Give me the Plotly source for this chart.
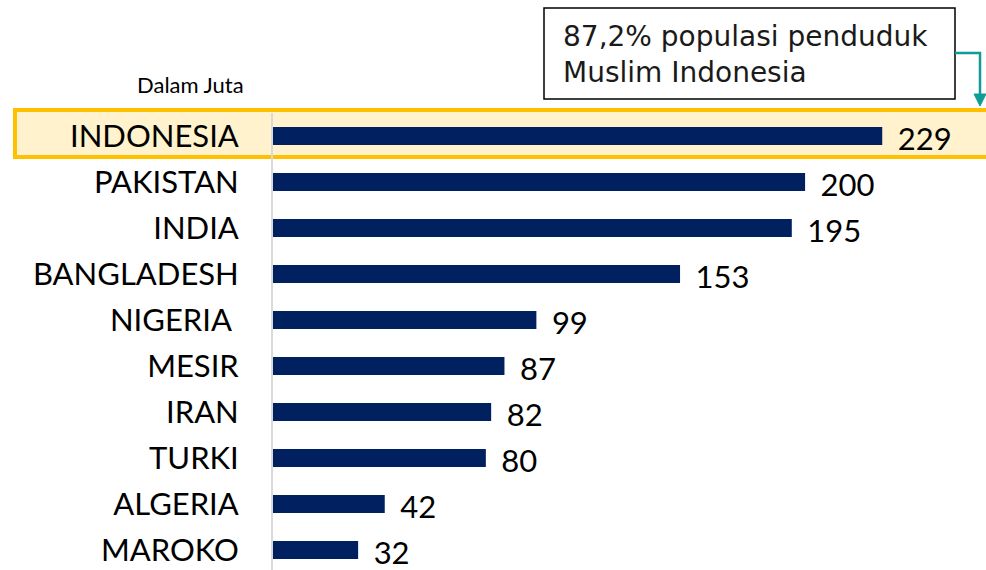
import plotly.graph_objects as go

countries = ["INDONESIA", "PAKISTAN", "INDIA", "BANGLADESH", "NIGERIA\u00a0", "MESIR",
             "IRAN", "TURKI", "ALGERIA", "MAROKO"]
values = [229, 200, 195, 153, 99, 87, 82, 80, 42, 32]
unit_label = "Dalam Juta"
note_text = "87,2% populasi penduduk<br>Muslim Indonesia"

W, H = 986, 570
L, T = 273, 113
PW, PH = W - L, H - T
XMAX = 268.0
ROW = 46.0

def px_x(p):
    return (p - L) / PW

def px_y(p):
    return (H - p) / PH

pos = list(range(len(countries)))
BAR = "#002060"
FONT = "Lato, 'Open Sans', sans-serif"

fig = go.Figure()
fig.add_trace(go.Bar(
    x=values, y=pos, orientation="h", width=0.39,
    marker=dict(color=BAR, line=dict(width=0)),
    hoverinfo="skip", showlegend=False,
))
fig.add_trace(go.Scatter(
    x=values, y=[p + 0.13 for p in pos], mode="text",
    text=[str(v) for v in values], textposition="middle right",
    texttemplate="\u2002%{text}",
    textfont=dict(family=FONT, size=31, color="#000000"),
    hoverinfo="skip", showlegend=False, cliponaxis=False,
))

ymax = -0.5 + PH / ROW
fig.update_layout(
    width=W, height=H,
    margin=dict(l=L, r=0, t=T, b=0),
    paper_bgcolor="white", plot_bgcolor="rgba(0,0,0,0)",
    xaxis=dict(range=[0, XMAX], visible=False, fixedrange=True),
    yaxis=dict(range=[ymax, -0.5], tickvals=pos, ticktext=countries,
               showgrid=False, zeroline=False, showline=True,
               linecolor="#d9d9d9", linewidth=2, fixedrange=True,
               ticks="outside", ticklen=26, tickcolor="rgba(0,0,0,0)",
               tickfont=dict(family=FONT, size=31, color="#000000")),
    font=dict(family=FONT),
)

# highlight band for Indonesia
fig.add_shape(type="rect", xref="paper", yref="paper",
              x0=px_x(15), x1=px_x(W + 10), y0=px_y(157), y1=px_y(110),
              fillcolor="#FFF2CC", line=dict(color="#FFC000", width=4),
              layer="below")

# note box
fig.add_shape(type="rect", xref="paper", yref="paper",
              x0=px_x(544), x1=px_x(955), y0=px_y(99), y1=px_y(8),
              fillcolor="white", line=dict(color="#000000", width=1.5))
fig.add_annotation(xref="paper", yref="paper", x=px_x(561), y=px_y(55),
                   xanchor="left", yanchor="middle", align="left",
                   text=note_text, showarrow=False,
                   font=dict(family="'DejaVu Sans', sans-serif", size=28, color="#1a1a1a"))

# elbow connector with arrow head
TEAL = "#109C96"
fig.add_shape(type="path", xref="paper", yref="paper",
              path=f"M {px_x(955)} {px_y(53)} L {px_x(980)} {px_y(53)} L {px_x(980)} {px_y(96)}",
              line=dict(color=TEAL, width=2.5))
fig.add_shape(type="path", xref="paper", yref="paper",
              path=f"M {px_x(974)} {px_y(94)} L {px_x(986)} {px_y(94)} L {px_x(980)} {px_y(106)} Z",
              fillcolor=TEAL, line=dict(color=TEAL, width=1))

fig.add_annotation(xref="paper", yref="paper", x=px_x(190), y=px_y(84),
                   xanchor="center", yanchor="middle", text=unit_label,
                   showarrow=False, font=dict(family=FONT, size=22, color="#000000"))

fig.write_html("out.html", config={"displayModeBar": False, "staticPlot": True},
               post_script="document.body.style.margin='0';document.body.style.overflow='hidden';")
